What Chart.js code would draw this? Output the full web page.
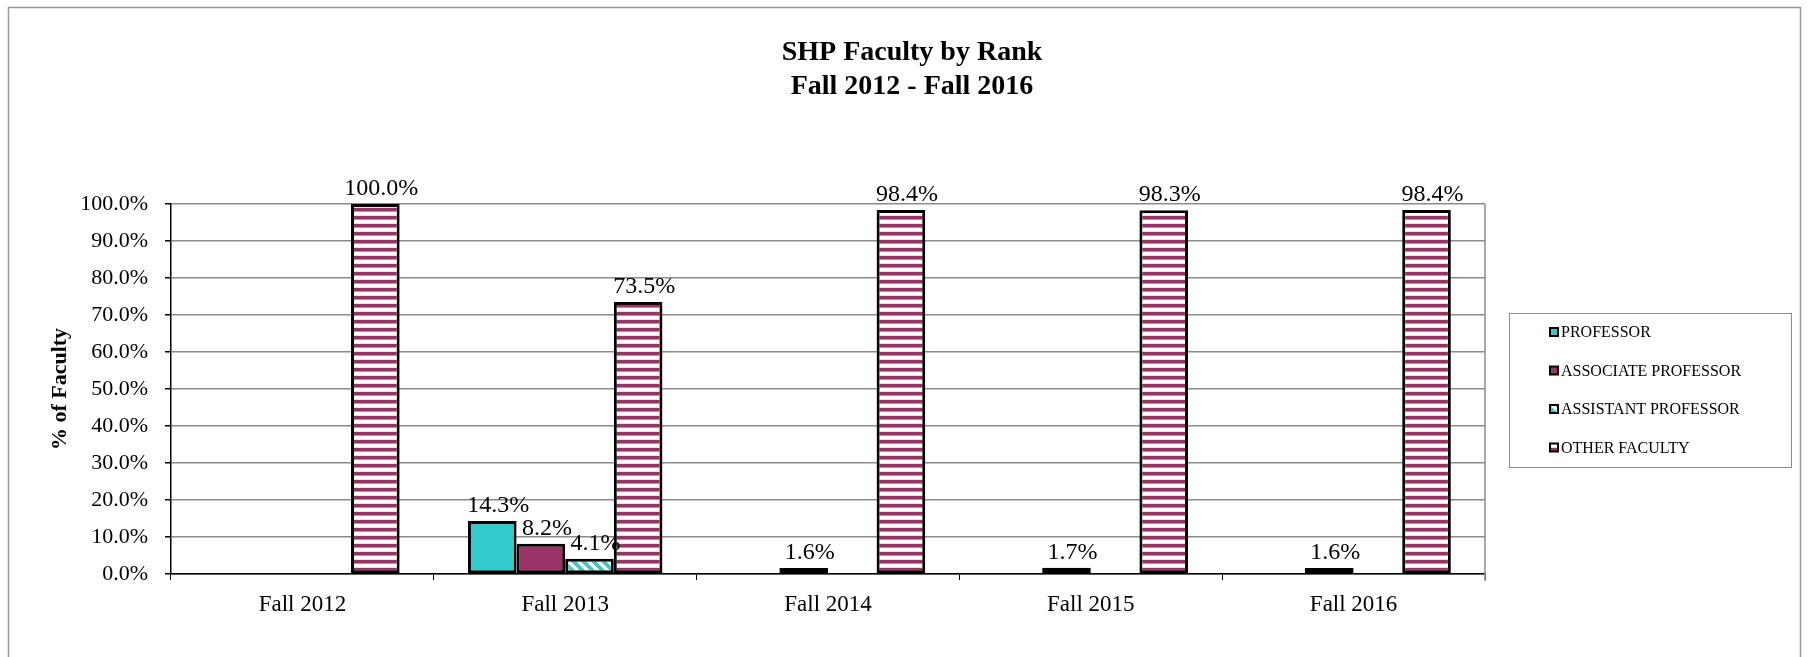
<!DOCTYPE html>
<html>
<head>
<meta charset="utf-8">
<title>SHP Faculty by Rank</title>
<script src="https://cdn.jsdelivr.net/npm/chart.js@4.4.0/dist/chart.umd.min.js"></script>
<style>
    html, body { margin: 0; padding: 0; background: #fff; }
    #wrap { position: relative; width: 1813px; height: 657px; }
</style>
</head>
<body>
<div id="wrap"><canvas id="myChart"></canvas></div>
<script>
const years = ['Fall 2012', 'Fall 2013', 'Fall 2014', 'Fall 2015', 'Fall 2016'];
const ranks = ['PROFESSOR', 'ASSOCIATE PROFESSOR', 'ASSISTANT PROFESSOR', 'OTHER FACULTY'];
const professor = [null, 14.3, null, null, null];
const associate = [null, 8.2, 1.6, 1.7, 1.6];
const assistant = [null, 4.1, null, null, null];
const other = [100.0, 73.5, 98.4, 98.3, 98.4];
const yTicks = [0, 10, 20, 30, 40, 50, 60, 70, 80, 90, 100];
const titleLines = ['SHP Faculty by Rank', 'Fall 2012 - Fall 2016'];

const TEAL = '#33cccc';
const MAROON = '#993366';
const SERIF = "'Liberation Serif', 'Times New Roman', serif";

function hStripes() {
    const c = document.createElement('canvas');
    c.width = 8; c.height = 8;
    const g = c.getContext('2d');
    g.fillStyle = '#fff';
    g.fillRect(0, 0, 8, 8);
    g.fillStyle = MAROON;
    g.fillRect(0, 0, 8, 3);
    g.fillStyle = '#c68aa7';
    g.fillRect(0, 3, 8, 1);
    g.fillStyle = '#efdde6';
    g.fillRect(0, 7, 8, 1);
    return g.createPattern(c, 'repeat');
}

function dStripes() {
    const n = 10;
    const c = document.createElement('canvas');
    c.width = n; c.height = n;
    const g = c.getContext('2d');
    g.fillStyle = '#fff';
    g.fillRect(0, 0, n, n);
    g.fillStyle = TEAL;
    for (let x = 0; x < n; x++) {
        for (let y = 0; y < n; y++) {
            if (((x - y) % n + n) % n < 5) g.fillRect(x, y, 1, 1);
        }
    }
    return g.createPattern(c, 'repeat');
}

// title, frame, plot border, value labels and legend box
const decorations = {
    id: 'decorations',
    beforeDraw(chart) {
        const ctx = chart.ctx;
        ctx.save();
        ctx.strokeStyle = '#9a9a9a';
        ctx.lineWidth = 1.5;
        ctx.strokeRect(8.5, 7.5, 1792, 700);
        ctx.fillStyle = '#000';
        ctx.font = 'bold 28px ' + SERIF;
        ctx.textAlign = 'center';
        ctx.textBaseline = 'alphabetic';
        titleLines.forEach((t, i) => ctx.fillText(t, 912, 60 + i * 34));
        ctx.restore();
    },
    afterDatasetsDraw(chart) {
        const ctx = chart.ctx;
        const area = chart.chartArea;
        ctx.save();
        ctx.strokeStyle = '#8c8c8c';
        ctx.lineWidth = 1.5;
        ctx.beginPath();
        ctx.moveTo(area.right, area.top);
        ctx.lineTo(area.right, area.bottom + 7);
        ctx.stroke();

        ctx.fillStyle = '#000';
        ctx.font = '24px ' + SERIF;
        ctx.textAlign = 'center';
        ctx.textBaseline = 'alphabetic';
        chart.data.datasets.forEach((ds, i) => {
            chart.getDatasetMeta(i).data.forEach((bar, j) => {
                const v = ds.data[j];
                if (v === null) return;
                ctx.fillText(v.toFixed(1) + '%', bar.x + 6, bar.y - 9);
            });
        });

        // legend
        ctx.strokeStyle = '#8c8c8c';
        ctx.lineWidth = 1;
        ctx.strokeRect(1509.5, 313.5, 282, 154);
        ctx.font = '16px ' + SERIF;
        ctx.textAlign = 'left';
        ctx.textBaseline = 'middle';
        chart.data.datasets.forEach((ds, i) => {
            const y = 332 + i * 38.5;
            ctx.fillStyle = ds.backgroundColor;
            ctx.fillRect(1550, y - 4, 8, 8);
            ctx.strokeStyle = '#000';
            ctx.lineWidth = 2;
            ctx.strokeRect(1550, y - 4, 8, 8);
            ctx.fillStyle = '#000';
            ctx.fillText(ds.label, 1561, y + 1);
        });
        ctx.restore();
    }
};

function chart() {
    const ctx = document.getElementById('myChart').getContext('2d');
    const fills = [TEAL, MAROON, dStripes(), hStripes()];
    const series = [professor, associate, assistant, other];
    return new Chart(ctx, {
        type: 'bar',
        data: {
            labels: years,
            datasets: series.map((s, i) => ({
                label: ranks[i],
                data: s,
                backgroundColor: fills[i],
                borderColor: '#000',
                borderWidth: 3,
                borderSkipped: false
            }))
        },
        options: {
            responsive: true,
            maintainAspectRatio: false,
            animation: false,
            categoryPercentage: 0.74,
            barPercentage: 1,
            layout: {
                padding: { left: 0, right: 328, top: 204, bottom: 40 }
            },
            plugins: {
                legend: { display: false },
                title: { display: false },
                tooltip: { enabled: false }
            },
            scales: {
                x: {
                    grid: {
                        offset: true,
                        drawOnChartArea: false,
                        tickLength: 6,
                        tickColor: '#000'
                    },
                    border: { color: '#000', width: 1.5 },
                    ticks: {
                        color: '#000',
                        padding: 11,
                        font: { family: SERIF, size: 23 }
                    },
                    afterFit(scale) { scale.height = 43; }
                },
                y: {
                    min: 0,
                    max: 100,
                    afterBuildTicks(scale) {
                        scale.ticks = yTicks.map(v => ({ value: v }));
                    },
                    grid: {
                        color: '#8c8c8c',
                        lineWidth: 1.5,
                        tickLength: 6,
                        tickColor: '#000'
                    },
                    border: { color: '#000', width: 1.5 },
                    ticks: {
                        color: '#000',
                        padding: 17,
                        font: { family: SERIF, size: 22 },
                        callback: v => v.toFixed(1) + '%'
                    },
                    title: {
                        display: true,
                        text: '% of Faculty',
                        color: '#000',
                        padding: { top: 47, bottom: 0 },
                        font: { family: SERIF, size: 22, weight: 'bold' }
                    },
                    afterFit(scale) { scale.width = 171; }
                }
            }
        },
        plugins: [decorations]
    });
}

chart();
</script>
</body>
</html>
